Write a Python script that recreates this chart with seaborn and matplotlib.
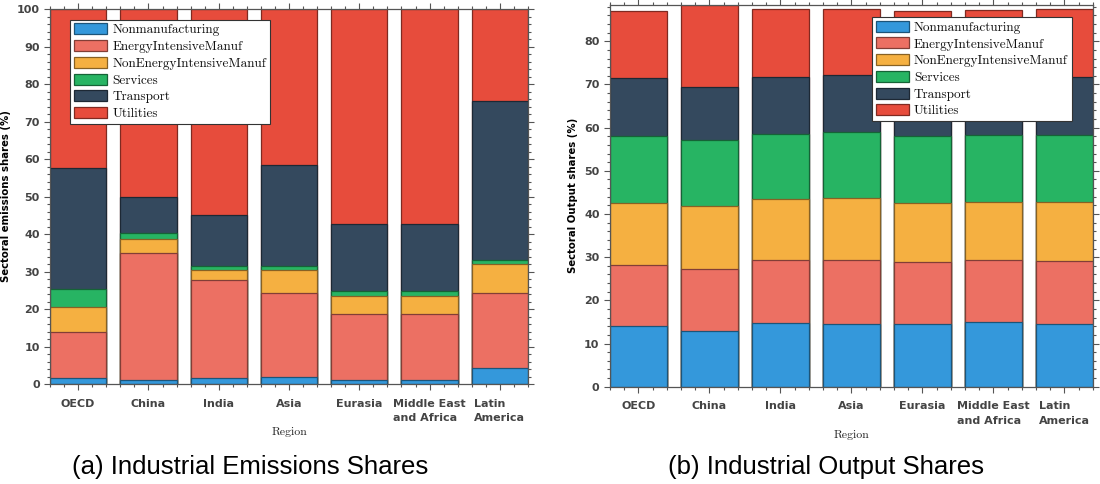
import numpy as np
import pandas as pd
import matplotlib
matplotlib.use("Agg")
import matplotlib.pyplot as plt
from matplotlib.ticker import MultipleLocator
from matplotlib.patches import Patch
import seaborn as sns

regions = ["OECD", "China", "India", "Asia", "Eurasia",
           "Middle East\nand Africa", "Latin\nAmerica"]
sectors = ["Nonmanufacturing", "EnergyIntensiveManuf", "NonEnergyIntensiveManuf",
           "Services", "Transport", "Utilities"]
colors = ["#3498db", "#ec7063", "#f5b041", "#27b463", "#34495e", "#e74c3c"]

# Emission shares (%) per region, one list per sector
em_nonmanuf = [1.5, 1.2, 1.6, 1.9, 1.1, 1.1, 4.2]
em_energy = [12.5, 33.8, 26.2, 22.5, 17.5, 17.5, 20.0]
em_nonenergy = [6.6, 3.7, 2.5, 5.9, 4.8, 4.8, 7.7]
em_services = [4.8, 1.5, 1.2, 1.2, 1.5, 1.5, 1.3]
em_transport = [32.1, 9.8, 13.5, 27.0, 17.9, 17.9, 42.3]
em_utilities = [42.5, 50.0, 55.0, 41.5, 57.2, 57.2, 24.5]

# Output shares (%) per region, one list per sector
out_nonmanuf = [14.05, 12.8, 14.7, 14.5, 14.45, 15.0, 14.45]
out_energy = [14.25, 14.4, 14.65, 14.8, 14.35, 14.35, 14.6]
out_nonenergy = [14.2, 14.7, 14.05, 14.3, 13.7, 13.45, 13.75]
out_services = [15.55, 15.15, 15.1, 15.3, 15.55, 15.6, 15.6]
out_transport = [13.35, 12.3, 13.2, 13.3, 13.45, 13.4, 13.25]
out_utilities = [15.6, 19.05, 15.7, 15.3, 15.4, 15.5, 15.85]

emissions = [em_nonmanuf, em_energy, em_nonenergy, em_services, em_transport, em_utilities]
outputs = [out_nonmanuf, out_energy, out_nonenergy, out_services, out_transport, out_utilities]

sns.set_style("ticks")
plt.rcParams["font.family"] = ["DejaVu Sans"]
plt.rcParams["axes.unicode_minus"] = False
plt.rcParams["text.color"] = "black"

SPINE = "#555555"
TICKC = "#444444"


def darker(c, f=0.55):
    r, g, b = matplotlib.colors.to_rgb(c)
    return (r * f, g * f, b * f)


def stacked(ax, layers, ylabel, legend_anchor):
    arr = np.array(layers)
    cum = np.cumsum(arr, axis=0)
    # draw the cumulative totals from the top layer down so lower layers sit in front
    for i in reversed(range(len(sectors))):
        df = pd.DataFrame({"region": regions, "value": cum[i]})
        sns.barplot(data=df, x="region", y="value", order=regions, color=colors[i],
                    saturation=1, width=0.8, edgecolor=darker(colors[i]),
                    linewidth=0.9, ax=ax, errorbar=None)
    ax.set_xlim(-0.4, len(regions) - 0.6)
    ax.set_ylim(0, cum[-1].max())
    ax.set_ylabel(ylabel, fontsize=7.3, fontweight="bold", color="black", labelpad=4)
    ax.set_xlabel("Region", fontsize=8.5, family="cmr10", color="#222222", labelpad=3)
    ax.yaxis.set_major_locator(MultipleLocator(10))
    ax.yaxis.set_minor_locator(MultipleLocator(2))
    ax.xaxis.set_minor_locator(MultipleLocator(0.2))
    ax.tick_params(axis="both", which="both", direction="out", top=True, right=True,
                   color=SPINE, width=0.8)
    ax.tick_params(axis="both", which="major", length=4.5, labelsize=8,
                   labelcolor=TICKC, pad=3)
    ax.tick_params(axis="both", which="minor", length=2.5)
    ax.tick_params(axis="x", which="major", pad=6)
    for lab in ax.get_xticklabels() + ax.get_yticklabels():
        lab.set_fontweight("bold")
    for lab in ax.get_xticklabels():
        lab.set_multialignment("left")
        lab.set_linespacing(1.55)
    for sp in ax.spines.values():
        sp.set_visible(True)
        sp.set_color(SPINE)
        sp.set_linewidth(0.9)
    handles = [Patch(facecolor=c, edgecolor=darker(c), linewidth=0.9, label=s)
               for s, c in zip(sectors, colors)]
    leg = ax.legend(handles=handles, loc="upper left", bbox_to_anchor=legend_anchor,
                    prop={"family": "cmr10", "size": 9.5}, fancybox=False,
                    framealpha=1, edgecolor="#333333", borderpad=0.3,
                    labelspacing=0.28, handlelength=2.5, handleheight=0.9,
                    handletextpad=0.4, borderaxespad=0)
    leg.get_frame().set_linewidth(0.8)
    for t in leg.get_texts():
        t.set_color("#111111")


fig = plt.figure(figsize=(11, 4.84), dpi=100)
ax1 = fig.add_axes([0.0455, 0.2066, 0.4345, 0.7748])
ax2 = fig.add_axes([0.5545, 0.2010, 0.4390, 0.7887])

stacked(ax1, emissions, "Sectoral emissions shares (%)", (0.042, 0.972))
stacked(ax2, outputs, "Sectoral Output shares (%)", (0.542, 0.969))

fig.text(0.2275, 0.035, "(a) Industrial Emissions Shares", ha="center", va="center",
         fontsize=18.5, family="Liberation Sans", color="black")
fig.text(0.751, 0.035, "(b) Industrial Output Shares", ha="center", va="center",
         fontsize=18.5, family="Liberation Sans", color="black")

fig.savefig("out.png", dpi=100)
